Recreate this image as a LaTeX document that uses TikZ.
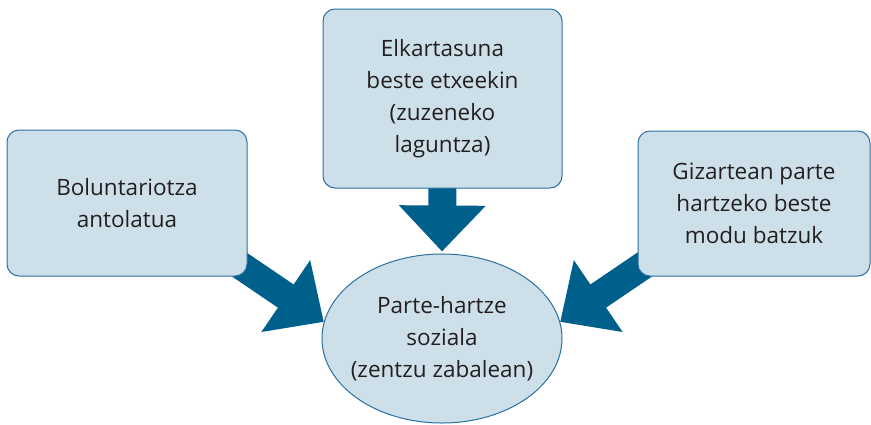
\documentclass[tikz,border=0pt]{standalone}
\usepackage{fontspec}
\setmainfont{Open Sans}
\usetikzlibrary{arrows.meta,shapes.geometric,backgrounds}
\definecolor{boxfill}{RGB}{205,224,234}
\definecolor{boxline}{RGB}{42,112,160}
\definecolor{arrowblue}{RGB}{0,96,140}
\definecolor{textgray}{RGB}{35,31,32}
\begin{document}
\begin{tikzpicture}[x=1pt, y=-1pt,
    txt/.style = {align=center, text=textgray, font=\fontsize{22.5}{32}\selectfont, inner sep=0pt},
    box/.style = {txt, draw=boxline, fill=boxfill, rounded corners=12pt, line width=1pt},
    oval/.style = {txt, ellipse, draw=boxline, fill=boxfill, line width=1pt, inner sep=-12pt},
    fat/.style = {arrowblue, line width=28pt, -{Triangle[length=46pt,width=84pt]}}]
    \useasboundingbox (0,0) rectangle (871,424);
    \node[box, minimum width=239pt, minimum height=179pt] (top) at (442.5,98.5) {Elkartasuna\\beste etxeekin\\(zuzeneko\\laguntza)};
    \node[box, minimum width=240pt, minimum height=146pt] (left) at (127,203) {Boluntariotza\\antolatua};
    \node[box, minimum width=232pt, minimum height=145pt] (right) at (754,203.5) {Gizartean parte\\hartzeko beste\\modu batzuk};
    \node[oval, minimum width=240pt, minimum height=169pt] (ps) at (442,338.5) {Parte-hartze\\soziala\\(zentzu zabalean)};
    \begin{scope}[on background layer]
        \draw[fat] ([yshift=10pt]top.south) -- ([yshift=2pt]ps.north);
        \draw[fat] ([xshift=-48pt,yshift=39pt]left.south east) -- (ps.172);
        \draw[fat] ([xshift=47pt,yshift=39pt]right.south west) -- (ps.8);
    \end{scope}
\end{tikzpicture}
\end{document}
